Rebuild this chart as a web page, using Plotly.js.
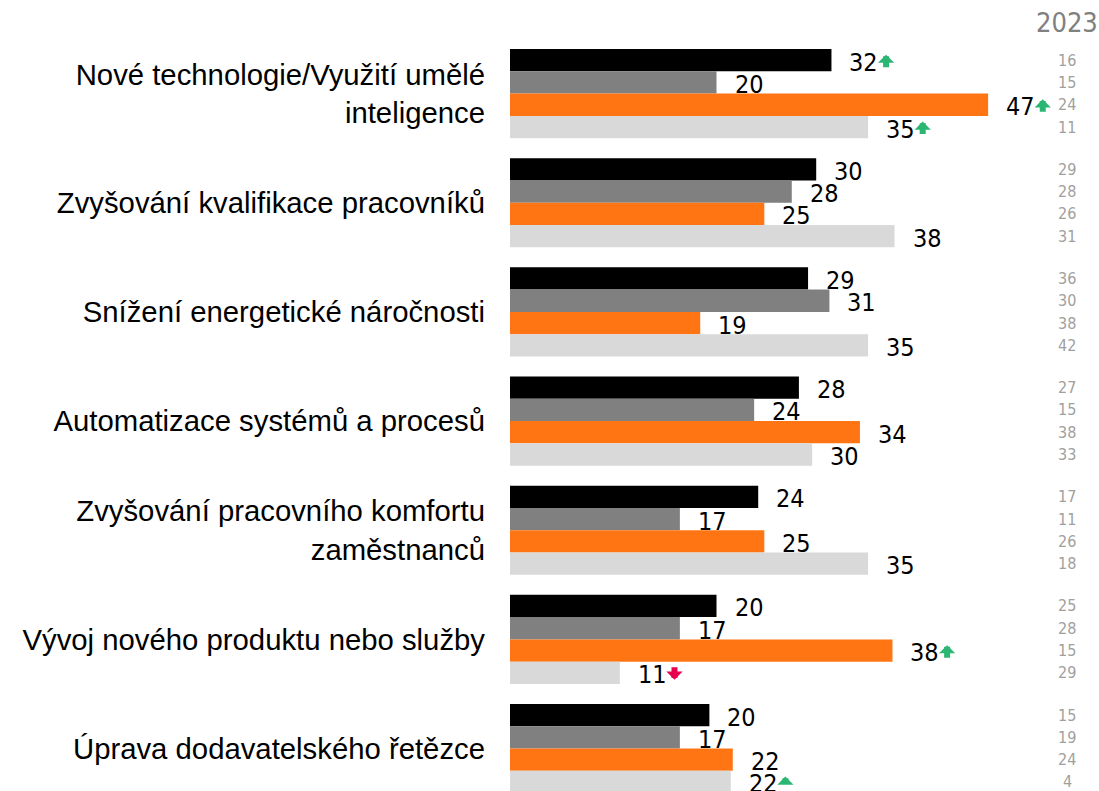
<!DOCTYPE html>
<html>
<head>
<meta charset="utf-8">
<script src="https://cdn.plot.ly/plotly-3.0.1.min.js"></script>
<style>html,body{margin:0;padding:0;background:#fff;}#chart{width:1099px;height:791px;}</style>
</head>
<body>
<div id="chart"></div>
<script>
const categories = [
  "Nové technologie/Využití umělé<br>inteligence",
  "Zvyšování kvalifikace pracovníků",
  "Snížení energetické náročnosti",
  "Automatizace systémů a procesů",
  "Zvyšování pracovního komfortu<br>zaměstnanců",
  "Vývoj nového produktu nebo služby",
  "Úprava dodavatelského řetězce"
];
const valuesBlack  = [31.6, 30.1, 29.3, 28.4, 24.4, 20.3, 19.6];
const valuesGray   = [20.3, 27.7, 31.4, 24.0, 16.7, 16.7, 16.7];
const valuesOrange = [47.0, 25.0, 18.7, 34.4, 25.0, 37.6, 21.9];
const valuesLight  = [35.2, 37.8, 35.2, 29.7, 35.2, 10.8, 21.7];

const trendBlack  = ["up", "", "", "", "", "", ""];
const trendGray   = ["", "", "", "", "", "", ""];
const trendOrange = ["up", "", "", "", "", "up", ""];
const trendLight  = ["up", "", "", "", "", "down", "up"];

const prevYearLabel = "2023";
const prevBlack  = [16, 29, 36, 27, 17, 25, 15];
const prevGray   = [15, 28, 30, 15, 11, 28, 19];
const prevOrange = [24, 26, 38, 38, 26, 15, 24];
const prevLight  = [11, 31, 42, 33, 18, 29, 4];

const colors = ["#000000", "#808080", "#FF7514", "#D9D9D9"];
const upColor = "#2BB673", downColor = "#E8004C";
const seriesValues = [valuesBlack, valuesGray, valuesOrange, valuesLight];
const seriesTrends = [trendBlack, trendGray, trendOrange, trendLight];
const seriesPrev = [prevBlack, prevGray, prevOrange, prevLight];

const numFont = "'Liberation Sans Narrow', 'DejaVu Sans Condensed', 'Roboto Condensed', Roboto, sans-serif";
const bargap = 0.183;
const labelShift = 16;
const yIdx = categories.map((c, i) => i);

const traces = seriesValues.map((vals, k) => ({
  type: "bar",
  orientation: "h",
  x: vals,
  y: yIdx,
  marker: {color: colors[k]},
  hoverinfo: "skip",
  showlegend: false
}));

const annotations = [];
const arrowRefs = [];
const w = (1 - bargap) / 4;
seriesValues.forEach((vals, k) => {
  const off = -(1 - bargap) / 2 + w * (k + 0.5);
  vals.forEach((v, i) => {
    const textIdx = annotations.length;
    annotations.push({
      x: v, y: i + off, xref: "x", yref: "y",
      text: String(Math.round(v)), showarrow: false, xanchor: "left", yanchor: "middle",
      xshift: labelShift, yshift: -2,
      font: {family: numFont, size: 25, color: "#000"}
    });
    annotations.push({
      x: 0.946, y: i + off, xref: "paper", yref: "y",
      text: String(seriesPrev[k][i]), showarrow: false, xanchor: "center", yanchor: "middle",
      font: {family: numFont, size: 16, color: "#A0A0A0"}
    });
    const tr = seriesTrends[k][i];
    if (tr) {
      const up = tr === "up";
      arrowRefs.push({arrowIdx: annotations.length, textIdx: textIdx});
      annotations.push({
        x: v, y: i + off, xref: "x", yref: "y",
        text: "", showarrow: true, axref: "pixel", ayref: "pixel",
        ax: 0, ay: up ? 14 : -14,
        xshift: labelShift + 40, yshift: up ? 5.4 : -6.9,
        arrowhead: 1, arrowsize: 0.45, arrowwidth: 6,
        arrowcolor: up ? upColor : downColor, standoff: 0, startstandoff: 0
      });
    }
  });
});
annotations.push({
  x: 0.946, y: 1.0226, xref: "paper", yref: "paper",
  text: prevYearLabel, showarrow: false, xanchor: "center", yanchor: "middle",
  font: {family: numFont, size: 27, color: "#808080"}
});

const layout = {
  width: 1099, height: 791,
  margin: {l: 510, r: 0, t: 39, b: 0, autoexpand: false},
  paper_bgcolor: "#fff", plot_bgcolor: "#fff",
  barmode: "group", bargap: bargap, bargroupgap: 0,
  hovermode: false,
  xaxis: {range: [0, 57.9], visible: false, fixedrange: true},
  yaxis: {
    range: [6.389, -0.5], tickmode: "array", tickvals: yIdx, ticktext: categories,
    showgrid: false, zeroline: false, showline: false, ticks: "",
    ticklabelstandoff: 24, automargin: false,
    tickfont: {family: "'Liberation Sans', Arial, sans-serif", size: 29.3, color: "#000"}
  },
  annotations: annotations
};
const gd = document.getElementById("chart");
Plotly.newPlot(gd, traces, layout, {displayModeBar: false, staticPlot: true}).then(() => {
  const upd = {};
  arrowRefs.forEach(r => {
    const el = gd.querySelector('.annotation[data-index="' + r.textIdx + '"] .annotation-text');
    let wpx = 29;
    if (el && el.getBBox) { const bb = el.getBBox(); if (bb.width > 0) wpx = bb.width; }
    upd["annotations[" + r.arrowIdx + "].xshift"] = labelShift + wpx + 10;
  });
  return Plotly.relayout(gd, upd);
});
</script>
</body>
</html>
